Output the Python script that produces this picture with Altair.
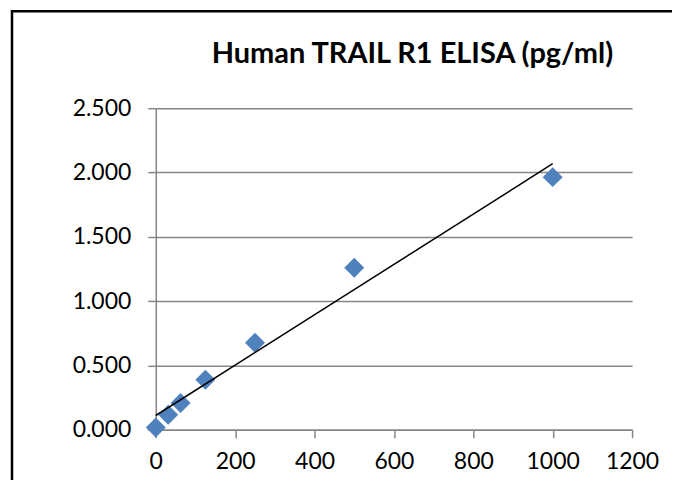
import altair as alt
import pandas as pd

conc = [0, 31.25, 62.5, 125, 250, 500, 1000]
od = [0.018, 0.116, 0.207, 0.389, 0.676, 1.259, 1.964]
x_ticks = [0, 200, 400, 600, 800, 1000, 1200]
y_ticks = [0.0, 0.5, 1.0, 1.5, 2.0, 2.5]
title_text = "Human TRAIL R1 ELISA (pg/ml)"

df = pd.DataFrame({"conc": conc, "od": od})

FONT = "Lato"
GRID = "#868686"

xs = alt.Scale(domain=[0, 1200], nice=False)
ys = alt.Scale(domain=[0, 2.5], nice=False)

xax = alt.Axis(values=x_ticks, format="d", grid=False, domain=True, domainColor=GRID, domainWidth=1.5,
               tickColor=GRID, tickWidth=1.5, tickSize=8, labelFont=FONT, labelFontSize=23,
               labelColor="black", labelPadding=13, title=None, labelFlush=False)
yax = alt.Axis(values=y_ticks, format=".3f", grid=True, gridColor=GRID, gridWidth=1.5,
               domain=True, domainColor=GRID, domainWidth=1.5, tickColor=GRID, tickWidth=1.5,
               tickSize=8, labelFont=FONT, labelFontSize=23, labelColor="black",
               labelPadding=17, title=None)

base = alt.Chart(df)

points = base.mark_point(shape="diamond", filled=True, size=400, color="#4F81BD", opacity=1).encode(
    x=alt.X("conc:Q", scale=xs, axis=xax),
    y=alt.Y("od:Q", scale=ys, axis=yax),
)

trend = base.transform_regression("conc", "od", extent=[0, 1000]).mark_line(
    color="black", strokeWidth=1.5
).encode(
    x=alt.X("conc:Q", scale=xs),
    y=alt.Y("od:Q", scale=ys),
)

frame = alt.Chart(pd.DataFrame({"a": [0]})).mark_rect(
    fill=None, stroke="black", strokeWidth=2.5
).encode(
    x=alt.value(-144), x2=alt.value(519), y=alt.value(-97), y2=alt.value(420)
)

title = alt.Chart(pd.DataFrame({"t": [title_text]})).mark_text(
    font=FONT, fontSize=29, fontWeight="bold", align="left", baseline="alphabetic", color="black"
).encode(
    text="t:N", x=alt.value(56), y=alt.value(-45)
)

chart = alt.layer(frame, points, trend, title).properties(
    width=477, height=322,
    autosize=alt.AutoSizeParams(type="none"),
    padding={"left": 148, "top": 100, "right": 40, "bottom": 50},
).configure_view(stroke=None)

chart.save("out.html", embed_options={"renderer": "svg", "actions": False})
